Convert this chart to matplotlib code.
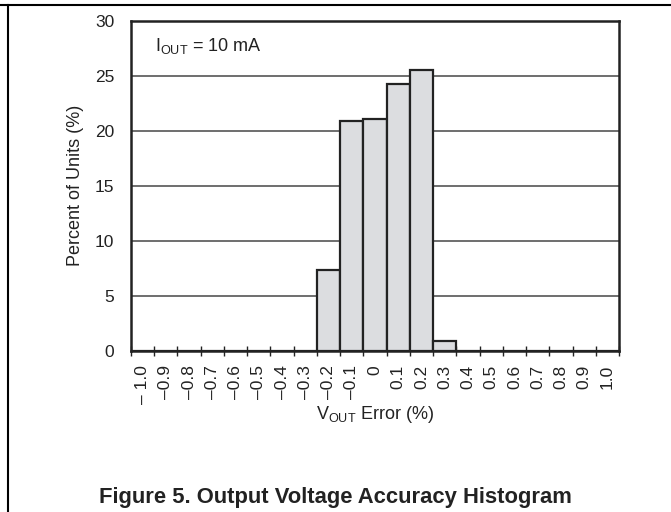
import matplotlib.pyplot as plt
from matplotlib.lines import Line2D
import numpy as np

plt.rcParams["font.family"] = ["Liberation Sans", "DejaVu Sans"]

# bin centres (V_OUT error, %) and percent of units per bin
bin_centers = [round(-1.0 + 0.1 * i, 1) for i in range(21)]
percent_units = [0, 0, 0, 0, 0, 0, 0, 0, 7.35, 20.85, 21.1, 24.25, 25.5, 0.9,
                 0, 0, 0, 0, 0, 0, 0]
tick_labels = ["\u2013 1.0", "\u20130.9", "\u20130.8", "\u20130.7", "\u20130.6",
               "\u20130.5", "\u20130.4", "\u20130.3", "\u20130.2", "\u20130.1",
               "0", "0.1", "0.2", "0.3", "0.4", "0.5", "0.6", "0.7", "0.8",
               "0.9", "1.0"]
y_ticks = [0, 5, 10, 15, 20, 25, 30]

TEXT = "#222222"

fig = plt.figure(figsize=(6.71, 5.12), dpi=100)
ax = fig.add_axes([131 / 671, 1 - 351 / 512, 488 / 671, 330.3 / 512])

for y in y_ticks[1:-1]:
    ax.axhline(y, color="#555555", linewidth=1.2, zorder=1)

width = 0.1
ax.bar(bin_centers, percent_units, width=width, color="#dcdde0",
       edgecolor="#222222", linewidth=1.6, zorder=2)

ax.set_xlim(-1.05, 1.05)
ax.set_ylim(0, 30)

edges = np.arange(-1.05, 1.0501, 0.1)
ax.set_xticks(edges)
ax.set_xticklabels([])
ax.set_xticks(bin_centers, minor=True)
ax.set_xticklabels(tick_labels, minor=True, rotation=90, fontsize=12.5,
                   color=TEXT)
ax.tick_params(axis="x", which="major", direction="inout", length=7,
               width=1, color="#222222")
ax.tick_params(axis="x", which="minor", length=0, pad=10)

ax.set_yticks(y_ticks)
ax.set_yticklabels([str(v) for v in y_ticks], fontsize=12.5, color=TEXT)
ax.tick_params(axis="y", length=0, pad=12)

for s in ax.spines.values():
    s.set_linewidth(1.8)
    s.set_color("#222222")

ax.set_ylabel("Percent of Units (%)", fontsize=13, color=TEXT, labelpad=8)
ax.set_xlabel(r"V$_{\mathregular{OUT}}$ Error (%)", fontsize=13, color=TEXT,
              labelpad=0)

ax.text(0.05, 0.922, r"I$_{\mathregular{OUT}}$ = 10 mA", transform=ax.transAxes,
        fontsize=13, color=TEXT, va="center", ha="left")

fig.text(0.5, 1 - 497 / 512, "Figure 5. Output Voltage Accuracy Histogram",
         ha="center", va="center", fontsize=15.8, fontweight="bold", color=TEXT)

# page frame lines
fig.add_artist(Line2D([0, 1], [1 - 4.5 / 512, 1 - 4.5 / 512],
                      transform=fig.transFigure, color="black", linewidth=1.5))
fig.add_artist(Line2D([8 / 671, 8 / 671], [0, 1 - 4.5 / 512],
                      transform=fig.transFigure, color="black", linewidth=1.5))

fig.savefig("out.png", dpi=100)
